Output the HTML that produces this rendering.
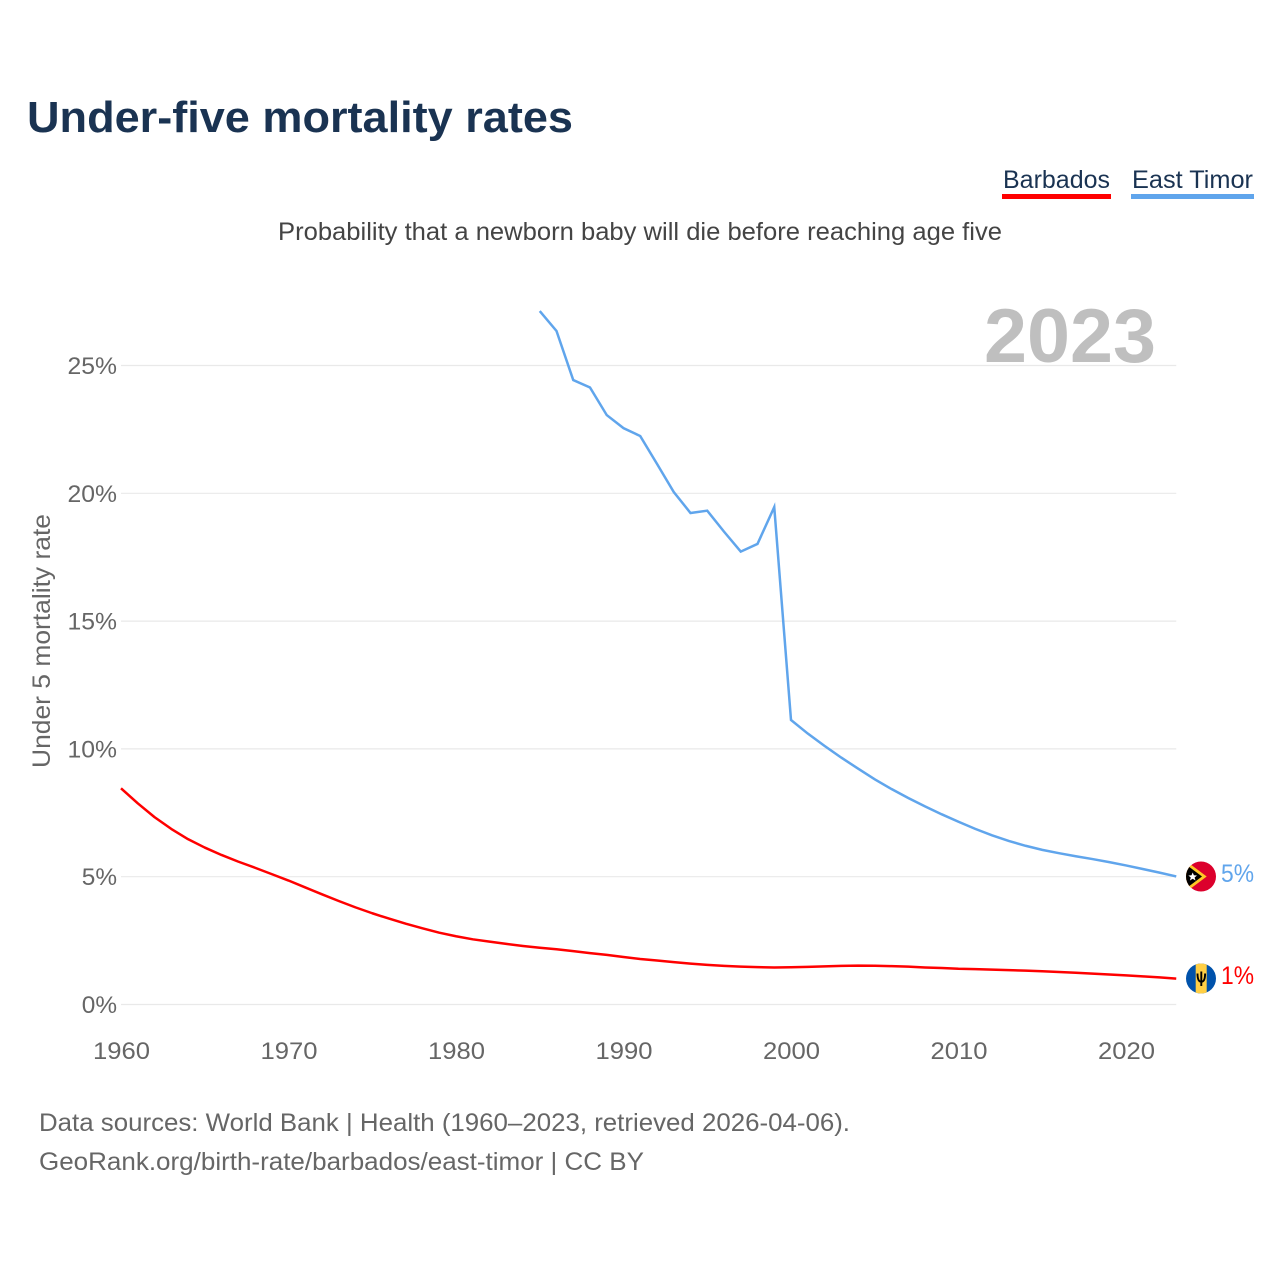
<!DOCTYPE html>
<html lang="en">
<head>
<meta charset="utf-8">
<title>Under-five mortality rates</title>
<style>
html,body{margin:0;padding:0;background:#fff;}
svg{display:block;font-family:"Liberation Sans",sans-serif;}
</style>
</head>
<body>
<svg id="chart" width="1280" height="1280" viewBox="0 0 1280 1280" xmlns="http://www.w3.org/2000/svg">
  <defs>
    <clipPath id="flag-clip-tl"><circle cx="1201" cy="876.5" r="15"/></clipPath>
    <clipPath id="flag-clip-bb"><circle cx="1201" cy="978.5" r="15"/></clipPath>
  </defs>
  <rect width="1280" height="1280" fill="#fff"/>
  <text x="27" y="132" font-size="44" font-weight="700" fill="#1a3352" textLength="546" lengthAdjust="spacingAndGlyphs">Under-five mortality rates</text>
  <g>
    <text x="1003" y="188" font-size="25" fill="#1a3352" textLength="107" lengthAdjust="spacingAndGlyphs">Barbados</text>
    <rect x="1002" y="194" width="109" height="5" fill="#ff0000"/>
  </g>
  <g>
    <text x="1132" y="188" font-size="25" fill="#1a3352" textLength="121" lengthAdjust="spacingAndGlyphs">East Timor</text>
    <rect x="1131" y="194" width="123" height="5" fill="#60a5ec"/>
  </g>
  <text x="278" y="240" font-size="25" fill="#444" textLength="724" lengthAdjust="spacingAndGlyphs">Probability that a newborn baby will die before reaching age five</text>
  <g id="grid"></g>
  <text x="984" y="362" font-size="76" font-weight="700" fill="#bfbfbf" textLength="172" lengthAdjust="spacingAndGlyphs">2023</text>
  <g id="yticks"></g>
  <g id="xticks"></g>
  <text transform="translate(50,768) rotate(-90)" font-size="25" fill="#666" textLength="254" lengthAdjust="spacingAndGlyphs">Under 5 mortality rate</text>
  <path id="line-barbados" fill="none" stroke="#ff0000" stroke-width="2.5" stroke-linejoin="round"/>
  <path id="line-east-timor" fill="none" stroke="#60a5ec" stroke-width="2.5" stroke-linejoin="miter"/>
  <g clip-path="url(#flag-clip-tl)">
    <rect x="1186" y="861" width="30" height="31" fill="#dc002c"/>
    <polygon points="1186,861 1206.700,876.500 1186,892" fill="#ffc726"/>
    <polygon points="1186,864.500 1202,876.500 1186,888.500" fill="#000"/>
    <polygon points="1192.700,872.500 1193.900,875.300 1197,875.500 1194.600,877.500 1195.500,880.500 1192.700,878.800 1189.900,880.500 1190.800,877.500 1188.400,875.500 1191.500,875.300" fill="#fff"/>
  </g>
  <g clip-path="url(#flag-clip-bb)">
    <rect x="1186" y="963" width="30" height="31" fill="#0052ab"/>
    <rect x="1195.700" y="963" width="11" height="31" fill="#ffcf45"/>
    <path d="M1201.300 971.500V986M1197.500 973.500C1197.500 979 1198.500 981.800 1201.300 981.800C1204.100 981.800 1205.100 979 1205.100 973.500" fill="none" stroke="#000" stroke-width="1.900"/>
  </g>
  <text id="end-label-east-timor" x="1221" y="882" font-size="25" fill="#60a5ec" textLength="33" lengthAdjust="spacingAndGlyphs"></text>
  <text id="end-label-barbados" x="1221" y="984" font-size="25" fill="#ff0000" textLength="33" lengthAdjust="spacingAndGlyphs"></text>
  <text x="39" y="1131" font-size="25" fill="#666" textLength="811" lengthAdjust="spacingAndGlyphs">Data sources: World Bank | Health (1960–2023, retrieved 2026-04-06).</text>
  <text x="39" y="1170" font-size="25" fill="#666" textLength="605" lengthAdjust="spacingAndGlyphs">GeoRank.org/birth-rate/barbados/east-timor | CC BY</text>
</svg>
<script>
const yTickValues = [0, 5, 10, 15, 20, 25];
const xTickValues = [1960, 1970, 1980, 1990, 2000, 2010, 2020];
const barbadosStartYear = 1960;
const barbadosValues = [8.46, 7.87, 7.33, 6.87, 6.47, 6.14, 5.85, 5.59, 5.35, 5.1, 4.85, 4.58, 4.31, 4.05, 3.8, 3.57, 3.36, 3.16, 2.98, 2.81, 2.67, 2.55, 2.46, 2.37, 2.29, 2.22, 2.16, 2.09, 2.01, 1.94, 1.86, 1.78, 1.72, 1.66, 1.6, 1.55, 1.51, 1.48, 1.46, 1.45, 1.455, 1.47, 1.49, 1.51, 1.52, 1.515, 1.5, 1.48, 1.45, 1.43, 1.4, 1.385, 1.365, 1.345, 1.325, 1.3, 1.27, 1.24, 1.21, 1.175, 1.14, 1.1, 1.06, 1.01];
const eastTimorStartYear = 1985;
const eastTimorValues = [27.13, 26.35, 24.43, 24.14, 23.06, 22.55, 22.24, 21.15, 20.05, 19.23, 19.32, 18.5, 17.72, 18.02, 19.46, 11.13, 10.6, 10.12, 9.66, 9.23, 8.81, 8.43, 8.08, 7.75, 7.44, 7.15, 6.87, 6.62, 6.4, 6.21, 6.05, 5.92, 5.8, 5.69, 5.57, 5.44, 5.3, 5.16, 5.01];

const SVG_NS = 'http://www.w3.org/2000/svg';
function xScale(year) { return 121 + (year - 1960) * 16.75; }
function yScale(value) { return 1004.5 - value * 25.56; }
function linePath(startYear, values) {
  return values.map(function (v, i) {
    return (i ? 'L' : 'M') + xScale(startYear + i).toFixed(2) + ' ' + yScale(v).toFixed(2);
  }).join('');
}
const gridGroup = document.getElementById('grid');
const yGroup = document.getElementById('yticks');
const xGroup = document.getElementById('xticks');
yTickValues.forEach(function (v) {
  const line = document.createElementNS(SVG_NS, 'line');
  
  
  line.setAttribute('x1', xScale(1960));
  line.setAttribute('x2', xScale(2023));
  line.setAttribute('y1', yScale(v));
  line.setAttribute('y2', yScale(v));
  line.setAttribute('stroke', '#e9e9e9');
  line.setAttribute('stroke-width', '1.2');
  gridGroup.appendChild(line);
  const label = document.createElementNS(SVG_NS, 'text');
  
  
  const text = v + '%';
  const width = (text.length - 1) * 14.25 + 21;
  label.setAttribute('x', 117 - width);
  label.setAttribute('y', yScale(v) + 8.5);
  label.setAttribute('font-size', '24');
  label.setAttribute('fill', '#666');
  label.setAttribute('textLength', width);
  label.setAttribute('lengthAdjust', 'spacingAndGlyphs');
  label.textContent = text;
  yGroup.appendChild(label);
});
xTickValues.forEach(function (y) {
  const label = document.createElementNS(SVG_NS, 'text');
  
  
  label.setAttribute('x', xScale(y) - 28);
  label.setAttribute('y', 1059);
  label.setAttribute('font-size', '24');
  label.setAttribute('fill', '#666');
  label.setAttribute('textLength', '57');
  label.setAttribute('lengthAdjust', 'spacingAndGlyphs');
  label.textContent = String(y);
  xGroup.appendChild(label);
});
document.getElementById('line-barbados').setAttribute('d', linePath(barbadosStartYear, barbadosValues));
document.getElementById('line-east-timor').setAttribute('d', linePath(eastTimorStartYear, eastTimorValues));
document.getElementById('end-label-east-timor').textContent = Math.round(eastTimorValues[eastTimorValues.length - 1]) + '%';
document.getElementById('end-label-barbados').textContent = Math.round(barbadosValues[barbadosValues.length - 1]) + '%';
</script>
</body>
</html>
